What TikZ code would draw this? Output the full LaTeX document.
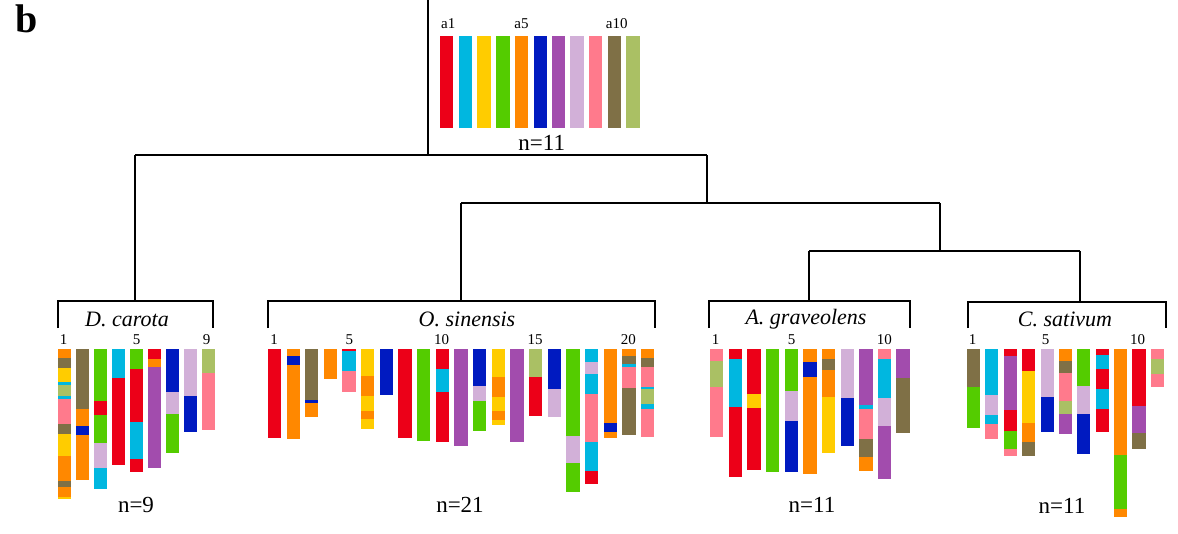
\documentclass[tikz,border=0pt]{standalone}
\usepackage{fontspec}
\setmainfont{Liberation Serif}
\definecolor{cR}{RGB}{236,0,24}
\definecolor{cC}{RGB}{0,183,224}
\definecolor{cY}{RGB}{255,204,0}
\definecolor{cG}{RGB}{84,204,0}
\definecolor{cO}{RGB}{255,136,0}
\definecolor{cB}{RGB}{0,26,192}
\definecolor{cP}{RGB}{162,76,173}
\definecolor{cL}{RGB}{210,176,216}
\definecolor{cK}{RGB}{255,122,140}
\definecolor{cV}{RGB}{127,112,70}
\definecolor{cQ}{RGB}{170,192,100}
\newcommand\sbar[2]{\foreach \ya/\yb/\cc in {#2}{\fill[fill=\cc] (#1,\ya) rectangle (#1+40,\yb);}}
\tikzset{
  tree/.style={line width=2pt,black},
  nlab/.style={font=\fontsize{23}{27}\selectfont,inner sep=0pt},
  slab/.style={font=\fontsize{22}{26}\selectfont\itshape,inner sep=0pt},
  idx/.style={font=\fontsize{15}{17}\selectfont,inner sep=0pt},
}
\begin{document}
\begin{tikzpicture}[x=1pt,y=-1pt]
\useasboundingbox (0,0) rectangle (1178,533);
\node[font=\fontsize{40}{44}\selectfont\bfseries,inner sep=0pt] (blab) at (27,19) {b};
% tree coordinates
\coordinate (root) at (428,0);
\coordinate (j1) at (428,155);
\coordinate (j1l) at (135,155);
\coordinate (j1r) at (707,155);
\coordinate (dtop) at (135,301);
\coordinate (j2) at (707,203);
\coordinate (j2l) at (461,203);
\coordinate (j2r) at (940,203);
\coordinate (otop) at (461,301);
\coordinate (j3) at (940,251);
\coordinate (j3l) at (809,251);
\coordinate (j3r) at (1080,251);
\coordinate (atop) at (809,301);
\coordinate (ctop) at (1080,302);
\draw[tree] (root) -- (j1);
\draw[tree] (j1l) -- (j1r);
\draw[tree] (j1l) -- (dtop);
\draw[tree] (j1r) -- (j2);
\draw[tree] (j2l) -- (j2r);
\draw[tree] (j2l) -- (otop);
\draw[tree] (j2r) -- (j3);
\draw[tree] (j3l) -- (j3r);
\draw[tree] (j3l) -- (atop);
\draw[tree] (j3r) -- (ctop);
% brackets
\draw[tree] (58,328) -- (58,301) -- (213,301) -- (213,328);
\draw[tree] (268,328) -- (268,301) -- (655,301) -- (655,328);
\draw[tree] (708.5,328) -- (708.5,301) -- (909.5,301) -- (909.5,328);
\draw[tree] (967.5,328) -- (967.5,302) -- (1165.5,302) -- (1165.5,328);
% species labels
\node[slab] (sd) at (127,319) {D. carota};
\node[slab] (so) at (467,319) {O. sinensis};
\node[slab] (sa) at (806,319) {A. graveolens};
\node[slab] (sc) at (1065,319) {C. sativum};
% index labels
\node[idx] (d1) at (63.7,340) {1};
\node[idx] (d5) at (136.7,340) {5};
\node[idx] (d9) at (206.7,340) {9};
\node[idx] (o1) at (274,340) {1};
\node[idx] (o5) at (349.3,340) {5};
\node[idx] (o10) at (441.7,340) {10};
\node[idx] (o15) at (535,340) {15};
\node[idx] (o20) at (628.3,340) {20};
\node[idx] (a1i) at (715.7,340) {1};
\node[idx] (a5i) at (791.7,340) {5};
\node[idx] (a10i) at (884.3,340) {10};
\node[idx] (c1) at (972.7,340) {1};
\node[idx] (c5) at (1045.7,340) {5};
\node[idx] (c10) at (1137.7,340) {10};
% n labels
\node[nlab] (n0) at (541.7,143) {n=11};
\node[nlab] (nd) at (136,505) {n=9};
\node[nlab] (no) at (460,505) {n=21};
\node[nlab] (na) at (812,505) {n=11};
\node[nlab] (nc) at (1062,506) {n=11};
% legend
\node[idx] (la1) at (448.3,24) {a1};
\node[idx] (la5) at (521.5,24) {a5};
\node[idx] (la10) at (616.7,24) {a10};
\begin{scope}[shift={(420,0)},scale=1/3]
\sbar{60}{107/385/cR}
\sbar{117}{107/385/cC}
\sbar{172}{107/385/cY}
\sbar{229}{107/385/cG}
\sbar{284}{107/385/cO}
\sbar{341}{107/385/cB}
\sbar{395}{107/385/cP}
\sbar{451}{107/385/cL}
\sbar{507}{107/385/cK}
\sbar{563}{107/385/cV}
\sbar{619}{107/385/cQ}
\end{scope}
% D. carota
\begin{scope}[shift={(40,290)},scale=1/3]
\sbar{53}{178/205/cO,205/235/cV,235/275/cY,275/285/cC,285/318/cQ,318/328/cC,328/402/cK,402/432/cV,432/498/cY,498/572/cO,572/592/cV,592/622/cO,622/627/cY}
\sbar{107}{178/358/cV,358/408/cO,408/436/cB,436/570/cO}
\sbar{161}{178/334/cG,334/376/cR,376/459/cG,459/533/cL,533/598/cC}
\sbar{215}{178/265/cC,265/524/cR}
\sbar{269}{178/237/cG,237/395/cR,395/507/cC,507/546/cR}
\sbar{323}{178/207/cR,207/232/cO,232/534/cP}
\sbar{377}{178/305/cB,305/372/cL,372/488/cG}
\sbar{431}{178/317/cL,317/427/cB}
\sbar{485}{178/250/cQ,250/420/cK}
\end{scope}
% O. sinensis 1-11
\begin{scope}[shift={(255,290)},scale=1/3]
\sbar{38}{178/443/cR}
\sbar{95}{178/197/cO,197/225/cB,225/448/cO}
\sbar{150}{178/331/cV,331/340/cB,340/382/cO}
\sbar{206}{178/267/cO}
\sbar{262}{178/184/cR,184/243/cC,243/305/cK}
\sbar{318}{178/258/cY,258/318/cO,318/363/cY,363/386/cO,386/416/cY}
\sbar{374}{178/316/cB}
\sbar{430}{178/443/cR}
\sbar{486}{178/454/cG}
\sbar{542}{178/238/cR,238/307/cC,307/457/cR}
\sbar{598}{178/467/cP}
\end{scope}
% O. sinensis 12-21
\begin{scope}[shift={(455,290)},scale=1/3]
\sbar{53}{178/288/cB,288/334/cL,334/424/cG}
\sbar{110}{178/261/cY,261/321/cO,321/364/cY,364/390/cO,390/404/cY}
\sbar{166}{178/457/cP}
\sbar{222}{178/262/cQ,262/377/cR}
\sbar{278}{178/298/cB,298/382/cL}
\sbar{334}{178/438/cG,438/518/cL,518/606/cG}
\sbar{390}{178/217/cC,217/253/cL,253/311/cC,311/455/cK,455/542/cC,542/582/cR}
\sbar{446}{178/398/cO,398/426/cB,426/443/cO}
\sbar{502}{178/198/cO,198/221/cV,221/231/cC,231/295/cK,295/436/cV}
\sbar{558}{178/204/cO,204/232/cV,232/292/cK,292/298/cC,298/342/cQ,342/356/cC,356/441/cK}
\end{scope}
% A. graveolens
\begin{scope}[shift={(700,290)},scale=1/3]
\sbar{30}{178/212/cK,212/290/cQ,290/442/cK}
\sbar{86}{178/207/cR,207/352/cC,352/562/cR}
\sbar{142}{178/312/cR,312/354/cY,354/541/cR}
\sbar{198}{178/546/cG}
\sbar{255}{178/304/cG,304/394/cL,394/547/cB}
\sbar{310}{178/215/cO,215/260/cB,260/553/cO}
\sbar{366}{178/207/cO,207/241/cV,241/320/cO,320/489/cY}
\sbar{422}{178/323/cL,323/467/cB}
\sbar{478}{178/345/cP,345/357/cC,357/447/cK,447/501/cV,501/543/cO}
\sbar{534}{178/208/cK,208/323/cC,323/409/cL,409/568/cP}
\sbar{589}{178/263/cP,263/430/cV}
\end{scope}
% C. sativum
\begin{scope}[shift={(955,290)},scale=1/3]
\sbar{35}{178/291/cV,291/414/cG}
\sbar{90}{178/316/cC,316/374/cL,374/401/cC,401/447/cK}
\sbar{146}{178/197/cR,197/360/cP,360/424/cR,424/477/cG,477/498/cK}
\sbar{201}{178/243/cR,243/398/cY,398/455/cO,455/499/cV}
\sbar{257}{178/322/cL,322/426/cB}
\sbar{311}{178/213/cO,213/249/cV,249/333/cK,333/371/cQ,371/433/cP}
\sbar{366}{178/287/cG,287/372/cL,372/491/cB}
\sbar{422}{178/195/cR,195/238/cC,238/297/cR,297/357/cC,357/426/cR}
\sbar{477}{178/496/cO,496/657/cG,657/682/cO}
\sbar{532}{178/348/cR,348/430/cP,430/477/cV}
\sbar{587}{178/208/cK,208/251/cQ,251/290/cK}
\end{scope}
\end{tikzpicture}
\end{document}
